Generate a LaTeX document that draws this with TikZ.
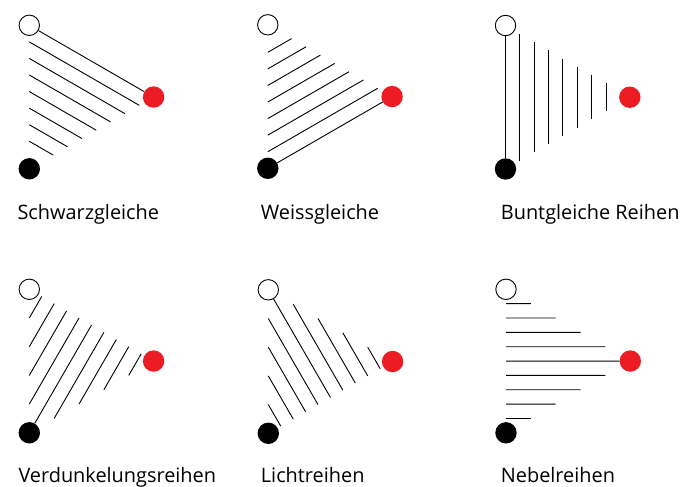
\documentclass[tikz,border=0pt]{standalone}
\usepackage{fontspec}
\setmainfont{Open Sans}
\usetikzlibrary{calc}
\definecolor{dotred}{RGB}{237,28,36}
% three colour dots at the corners of an equilateral triangle (side 143.5)
\newcommand\colourtriangle[3]{%
  \node[wdot] (w#1) at (#2,#3) {};
  \node[rdot] (r#1) at (#2+124.3,#3+71.75) {};
  \node[bdot] (b#1) at (#2,#3+143.5) {};}
\begin{document}
\begin{tikzpicture}[x=1pt,y=-1pt,
  hatch/.style={line width=0.9pt, black},
  dot/.style={circle, inner sep=0pt, minimum size=21.4pt},
  wdot/.style={dot, draw=black, fill=white, line width=0.9pt, minimum size=20.4pt},
  rdot/.style={dot, fill=dotred},
  bdot/.style={dot, fill=black},
  caption/.style={anchor=base west, inner sep=0pt, font=\fontsize{19.9}{23}\selectfont}]
\useasboundingbox (0,0) rectangle (697,487);

\colourtriangle{1}{29.3}{25.3}
\colourtriangle{2}{267.8}{24.8}
\colourtriangle{3}{505.5}{25.5}
\colourtriangle{4}{29.3}{289.3}
\colourtriangle{5}{268.3}{289.8}
\colourtriangle{6}{506}{289.3}

% Schwarzgleiche: parallels to white--red
\draw[hatch] (w1) -- (r1);
\foreach \k in {1,...,7}{
  \pgfmathsetmacro\fr{0.11547*\k}
  \draw[hatch] ($(w1)!\fr!(b1)$) -- ($(r1)!\fr!(b1)$);}

% Weissgleiche: parallels to black--red
\draw[hatch] (b2) -- (r2);
\foreach \k in {1,...,7}{
  \pgfmathsetmacro\fr{0.11547*\k}
  \draw[hatch] ($(b2)!\fr!(w2)$) -- ($(r2)!\fr!(w2)$);}

% Buntgleiche Reihen: parallels to white--black
\draw[hatch] (w3) -- (b3);
\foreach \k in {1,...,7}{
  \pgfmathsetmacro\fr{0.11547*\k}
  \draw[hatch] ($(w3)!\fr!(r3)$) -- ($(b3)!\fr!(r3)$);}

% Verdunkelungsreihen: perpendiculars to white--red
\foreach \k in {1,...,4}{
  \pgfmathsetmacro\t{0.1*\k}\pgfmathsetmacro\u{0.2*\k}
  \draw[hatch] ($(w4)!\t!(r4)$) -- ($(w4)!\u!(b4)$);}
\draw[hatch] (b4) -- ($(w4)!0.5!(r4)$);
\foreach \k in {6,...,9}{
  \pgfmathsetmacro\t{0.1*\k}\pgfmathsetmacro\u{2-0.2*\k}
  \draw[hatch] ($(w4)!\t!(r4)$) -- ($(r4)!\u!(b4)$);}

% Lichtreihen: perpendiculars to black--red
\foreach \k in {1,...,4}{
  \pgfmathsetmacro\t{0.1*\k}\pgfmathsetmacro\u{0.2*\k}
  \draw[hatch] ($(b5)!\t!(r5)$) -- ($(b5)!\u!(w5)$);}
\draw[hatch] (w5) -- ($(b5)!0.5!(r5)$);
\foreach \k in {6,...,9}{
  \pgfmathsetmacro\t{0.1*\k}\pgfmathsetmacro\u{2-0.2*\k}
  \draw[hatch] ($(b5)!\t!(r5)$) -- ($(r5)!\u!(w5)$);}

% Nebelreihen: perpendiculars to white--black
\foreach \k in {1,...,4}{
  \pgfmathsetmacro\t{0.1*\k}\pgfmathsetmacro\u{0.2*\k}
  \draw[hatch] ($(w6)!\t!(b6)$) -- ($(w6)!\u!(r6)$);}
\draw[hatch] ($(w6)!0.5!(b6)$) -- (r6);
\foreach \k in {6,...,9}{
  \pgfmathsetmacro\t{0.1*\k}\pgfmathsetmacro\u{2-0.2*\k}
  \draw[hatch] ($(w6)!\t!(b6)$) -- ($(b6)!\u!(r6)$);}

% captions
\node[caption] (l1) at (17.3,219) {Schwarzgleiche};
\node[caption] (l2) at (260.7,219) {Weissgleiche};
\node[caption] (l3) at (500.7,219) {Buntgleiche Reihen};
\node[caption] (l4) at (18.3,482.7) {Verdunkelungsreihen};
\node[caption] (l5) at (260.7,482.7) {Lichtreihen};
\node[caption] (l6) at (500.7,482.7) {Nebelreihen};
\end{tikzpicture}
\end{document}
